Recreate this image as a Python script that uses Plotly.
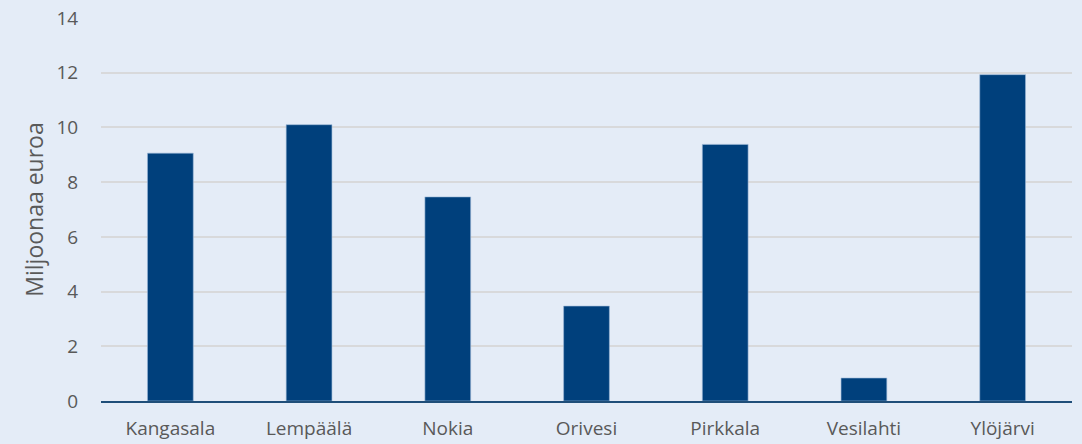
import plotly.graph_objects as go

categories = ["Kangasala", "Lempäälä", "Nokia", "Orivesi", "Pirkkala", "Vesilahti", "Ylöjärvi"]
values = [9.06, 10.1, 7.46, 3.47, 9.38, 0.84, 11.93]
y_ticks = [0, 2, 4, 6, 8, 10, 12, 14]

BG = "#E4ECF7"
BAR = "#00407C"
TEXT = "#595959"

fig = go.Figure()
fig.add_trace(go.Bar(
    x=categories, y=values,
    marker=dict(color=BAR, line=dict(color="#9DB8D9", width=0.6)),
))
fig.update_layout(
    width=1082, height=444,
    paper_bgcolor=BG, plot_bgcolor=BG,
    margin=dict(l=101, r=10, t=18, b=43, autoexpand=False),
    bargap=0.67,
    showlegend=False,
    font=dict(family="Open Sans, Liberation Sans, sans-serif", color=TEXT, size=19),
)
fig.update_xaxes(
    automargin=False,
    showline=True, linecolor="#1F4E79", linewidth=2,
    showgrid=False, ticks="outside", ticklen=9, tickcolor="rgba(0,0,0,0)",
    tickfont=dict(size=19, color=TEXT),
)
fig.update_yaxes(
    automargin=False,
    range=[0, 14], tickvals=y_ticks, showgrid=True, gridcolor="#D8D9DB", gridwidth=1.5,
    zeroline=False, showline=False, ticks="outside", ticklen=18, tickcolor="rgba(0,0,0,0)",
    tickfont=dict(size=19, color=TEXT),
    title=dict(text="Miljoonaa euroa", font=dict(size=23, color=TEXT), standoff=6),
)
fig.write_html(
    "out.html",
    config={"displayModeBar": False},
    post_script="document.body.style.margin='0';document.body.style.background='%s';" % BG,
)
